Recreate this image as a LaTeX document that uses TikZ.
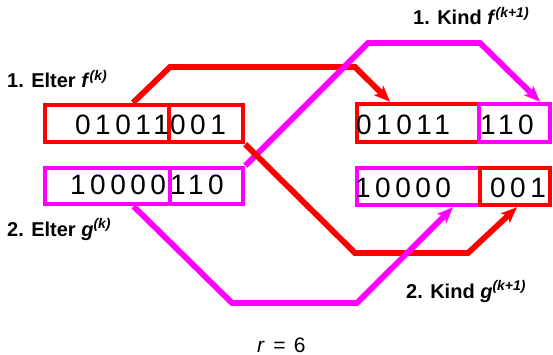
\documentclass[tikz,border=0pt]{standalone}
\usepackage{fontspec}
\setmainfont{Liberation Sans}
\newfontfamily\digitfont[LetterSpace=16]{Liberation Sans}
\usetikzlibrary{arrows.meta}
\definecolor{myred}{RGB}{255,0,0}
\definecolor{mymag}{RGB}{255,0,255}
\begin{document}
\begin{tikzpicture}[x=1pt,y=-1pt,
  redbox/.style={draw=myred,line width=4.5pt,rectangle,inner sep=0pt},
  magbox/.style={draw=mymag,line width=4.5pt,rectangle,inner sep=0pt},
  bits/.style={font=\digitfont\fontsize{28}{28}\selectfont,anchor=base west,inner sep=0pt},
  lbl/.style={font=\bfseries\fontsize{20}{20}\selectfont,anchor=base west,inner sep=0pt},
  conn/.style={line width=5.8pt,-{Stealth[length=16pt,width=13pt,inset=4pt]}}]
\useasboundingbox (0,0) rectangle (553,355);
% coordinates of bends
\coordinate (a1) at (170,67);  \coordinate (a2) at (355,67);
\coordinate (b1) at (368,43);  \coordinate (b2) at (480,43);
\coordinate (c1) at (355,253); \coordinate (c2) at (468,253);
\coordinate (d1) at (232,303); \coordinate (d2) at (357,303);
% boxes
\node[redbox,minimum width=124pt,minimum height=37pt] (p1a) at (107,123.5) {};
\node[redbox,minimum width=74pt,minimum height=37pt] (p1b) at (206,123.5) {};
\node[magbox,minimum width=125pt,minimum height=36pt] (p2a) at (107.5,186) {};
\node[magbox,minimum width=73pt,minimum height=36pt] (p2b) at (206.5,186) {};
\node[redbox,minimum width=122pt,minimum height=38pt] (c1a) at (418,123) {};
\node[magbox,minimum width=71pt,minimum height=38pt] (c1b) at (514.5,123) {};
\node[magbox,minimum width=123pt,minimum height=37pt] (c2a) at (418.5,186.5) {};
\node[redbox,minimum width=70pt,minimum height=37pt] (c2b) at (515,186.5) {};
% connectors
\draw[conn,myred] ([xshift=26pt]p1a.north) -- (a1) -- (a2) -- ([xshift=-28pt]c1a.north);
\draw[conn,mymag] (p2b.north east) -- (b1) -- (b2) -- ([xshift=25.5pt]c1b.north);
\draw[conn,myred] (p1b.south east) -- (c1) -- (c2) -- ([xshift=2pt]c2b.south);
\draw[conn,mymag] ([xshift=26pt]p2a.south) -- (d1) -- (d2) -- ([xshift=34.5pt]c2a.south);
% bits
\node[bits] (t1) at (75,135) {01011};
\node[bits] (t2) at (170,135) {001};
\node[bits] (t3) at (70,195) {10000};
\node[bits] (t4) at (170,195) {110};
\node[bits] (t5) at (356,135) {01011};
\node[bits] (t6) at (480,135) {110};
\node[bits] (t7) at (355,197) {10000};
\node[bits] (t8) at (490,197) {001};
% labels
\node[lbl] (l1) at (7,88) {1. Elter \textit{f}\textsuperscript{\textit{(k)}}};
\node[lbl] (l2) at (7,236) {2. Elter \textit{g}\textsuperscript{\textit{(k)}}};
\node[lbl] (l3) at (413,25) {1. Kind \textit{f}\textsuperscript{\textit{(k+1)}}};
\node[lbl] (l4) at (406,298) {2. Kind \textit{g}\textsuperscript{\textit{(k+1)}}};
\node[font=\fontsize{21}{21}\selectfont,anchor=base west,inner sep=0pt] (r) at (257,352) {\textit{r}\hspace{0.4em}=\hspace{0.4em}6};
\end{tikzpicture}
\end{document}
